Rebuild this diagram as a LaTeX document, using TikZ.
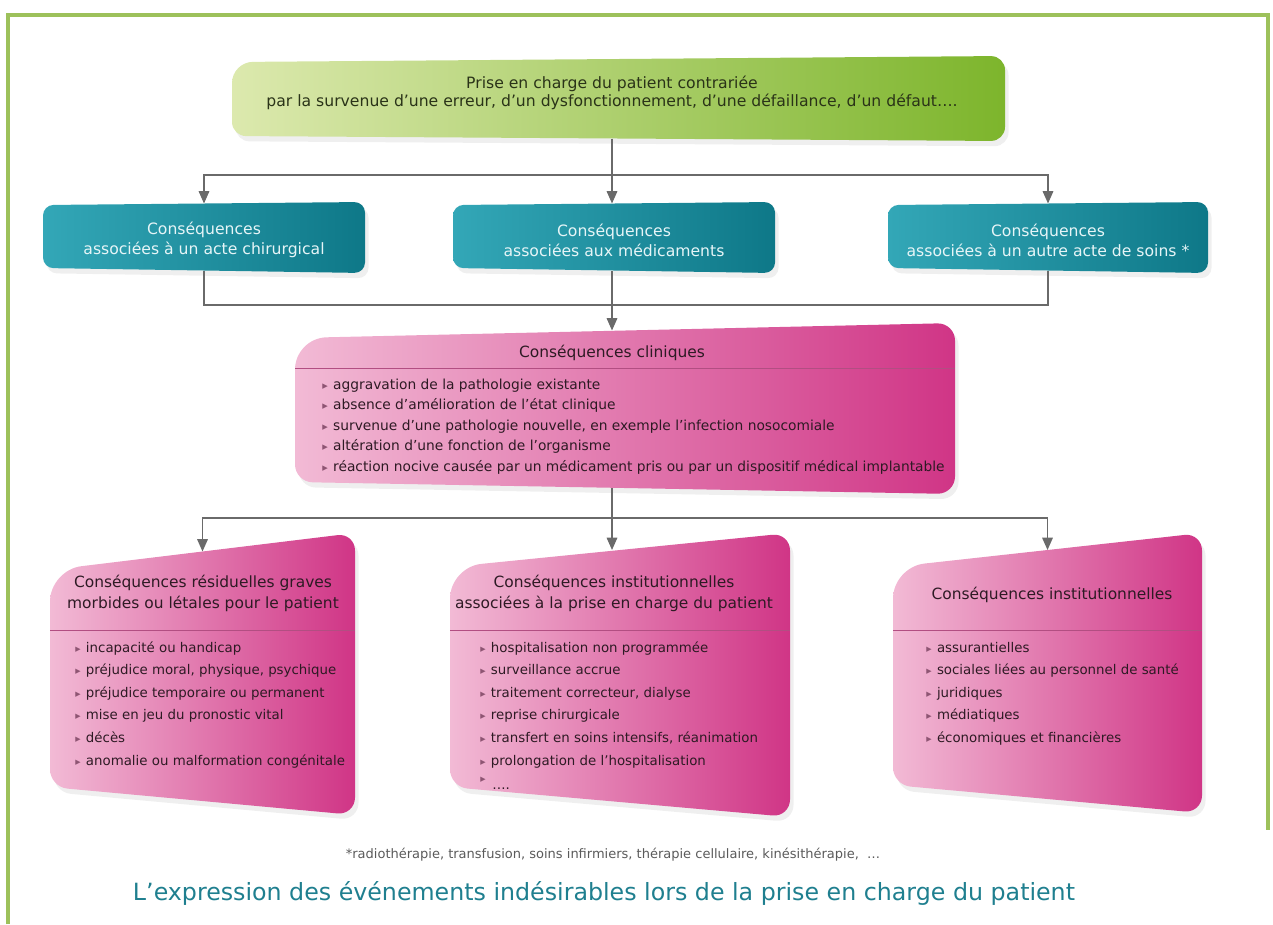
\documentclass[tikz,border=0pt]{standalone}
\usepackage{fontspec}
\usepackage{graphicx}
\setmainfont{DejaVu Sans}
\usetikzlibrary{calc,arrows.meta,shadows}

\definecolor{framegreen}{HTML}{9DC15B}
\definecolor{greenL}{HTML}{DCE9AE}
\definecolor{greenR}{HTML}{7DB52C}
\definecolor{tealL}{HTML}{33A7B7}
\definecolor{tealR}{HTML}{0E7888}
\definecolor{pinkL}{HTML}{F2BAD5}
\definecolor{pinkR}{HTML}{D03586}
\definecolor{linkgrey}{HTML}{6A6A6A}
\definecolor{greentext}{HTML}{2A3318}
\definecolor{tealtext}{HTML}{E6F5F7}
\definecolor{pinktext}{HTML}{2E1A24}
\definecolor{bulletc}{HTML}{8E5573}
\definecolor{sepline}{HTML}{B24E82}
\definecolor{notegrey}{HTML}{5A5A5A}
\definecolor{titleteal}{HTML}{1F7F8F}

\newcommand{\fs}[2]{\fontsize{#1}{#2}\selectfont}
\newcommand{\bul}{{\color{bulletc}\scalebox{0.8}{▸}}\hspace{3pt}}

% box with slanted top and bottom edges: name, x1, x2, y top left, y top right, y bottom left, y bottom right, style
\newcommand{\slantbox}[8]{%
  \coordinate (#1-tl) at (#2,#4);
  \coordinate (#1-tr) at (#3,#5);
  \coordinate (#1-bl) at (#2,#6);
  \coordinate (#1-br) at (#3,#7);
  \coordinate (#1-n) at ($(#1-tl)!0.5!(#1-tr)$);
  \coordinate (#1-s) at ($(#1-bl)!0.5!(#1-br)$);
  \path[#8] ($(#1-tl)!0.5!(#1-bl)$) [rounded corners=\rbig] -- (#1-tl)
    [rounded corners=\rsmall] -- (#1-tr) -- (#1-br) -- (#1-bl) -- cycle;
}

\tikzset{
  link/.style={draw=linkgrey, line width=0.8pt},
  arr/.style={link, -{Triangle[width=6pt,length=7pt]}},
  boxshadow/.style={drop shadow={opacity=0.13, shadow xshift=2pt, shadow yshift=-3pt}},
  greenfill/.style={left color=greenL, right color=greenR, boxshadow},
  tealfill/.style={left color=tealL, right color=tealR, boxshadow},
  pinkfill/.style={left color=pinkL, right color=pinkR, boxshadow},
  greentxt/.style={align=center, text=greentext, font=\fs{8.9}{10.3}},
  tealtxt/.style={align=center, text=tealtext, font=\fs{8.9}{11.3}},
  headtxt/.style={align=center, text=pinktext, font=\fs{8.8}{12}},
  itemtxt/.style={text=pinktext, font=\fs{7.6}{9}, inner sep=0pt, anchor=base west},
  sep/.style={draw=sepline, line width=0.4pt}
}

\begin{document}
\begin{tikzpicture}[x=0.02cm, y=-0.02cm]
  \useasboundingbox (0,0) rectangle (1273,924);

  % frame
  \draw[framegreen, line width=2.3pt] (8,924) -- (8,15) -- (1268,15) -- (1268,830);

  % top box
  \def\rbig{12pt}\def\rsmall{8pt}
  \slantbox{top}{232}{1005}{62}{56}{136}{141}{greenfill}
  \node[greentxt] (top-txt) at (612,93) {Prise en charge du patient contrariée\\
    par la survenue d’une erreur, d’un dysfonctionnement, d’une défaillance, d’un défaut….};

  % middle row
  \def\rbig{6pt}\def\rsmall{6pt}
  \slantbox{surg}{43}{365}{205}{202}{268}{273}{tealfill}
  \slantbox{med}{453}{775}{205}{202}{268}{273}{tealfill}
  \slantbox{care}{888}{1208}{205}{202}{268}{273}{tealfill}
  \node[tealtxt] (surg-txt) at (204,240) {Conséquences\\associées à un acte chirurgical};
  \node[tealtxt] (med-txt) at (614,240) {Conséquences\\associées aux médicaments};
  \node[tealtxt] (care-txt) at (1048,240) {Conséquences\\associées à un autre acte de soins *};

  % clinical box
  \def\rbig{18pt}\def\rsmall{10pt}
  \slantbox{clin}{295}{955}{338}{323}{482}{494}{pinkfill}
  \node[headtxt] (clin-head) at (612,353) {Conséquences cliniques};
  \draw[sep] (295,368) -- (955,368);
  \foreach [count=\i] \t in {aggravation de la pathologie existante,
      absence d’amélioration de l’état clinique,
      {survenue d’une pathologie nouvelle, en exemple l’infection nosocomiale},
      altération d’une fonction de l’organisme,
      réaction nocive causée par un médicament pris ou par un dispositif médical implantable}
    \node[itemtxt, font=\fs{7.85}{9}] (clin-i\i) at (322,{389+20.5*(\i-1)}) {\bul\t};

  % bottom row
  \def\rbig{18pt}\def\rsmall{10pt}
  \slantbox{resid}{50}{355}{570}{533}{787}{815}{pinkfill}
  \slantbox{inst}{450}{790}{567}{533}{787}{817}{pinkfill}
  \slantbox{soc}{893}{1202}{567}{533}{785}{813}{pinkfill}
  \draw[sep] (50,630) -- (355,630);
  \draw[sep] (450,630) -- (790,630);
  \draw[sep] (893,630) -- (1202,630);

  \node[headtxt] (resid-head) at (203,593) {Conséquences résiduelles graves\\morbides ou létales pour le patient};
  \node[headtxt] (inst-head) at (614,593) {Conséquences institutionnelles\\associées à la prise en charge du patient};
  \node[headtxt] (soc-head) at (1052,595) {Conséquences institutionnelles};

  \foreach [count=\i] \t in {incapacité ou handicap,
      {préjudice moral, physique, psychique},
      préjudice temporaire ou permanent,
      mise en jeu du pronostic vital,
      décès,
      anomalie ou malformation congénitale}
    \node[itemtxt] (resid-i\i) at (75,{652+22.6*(\i-1)}) {\bul\t};

  \foreach [count=\i] \t in {hospitalisation non programmée,
      surveillance accrue,
      {traitement correcteur, dialyse},
      reprise chirurgicale,
      {transfert en soins intensifs, réanimation},
      prolongation de l’hospitalisation}
    \node[itemtxt] (inst-i\i) at (480,{652+22.6*(\i-1)}) {\bul\t};
  \node[itemtxt] (inst-i7) at (480,782) {\bul};
  \node[itemtxt] (inst-dots) at (492,789) {….};

  \foreach [count=\i] \t in {assurantielles,
      sociales liées au personnel de santé,
      juridiques,
      médiatiques,
      économiques et financières}
    \node[itemtxt] (soc-i\i) at (926,{652+22.6*(\i-1)}) {\bul\t};

  % connectors
  \coordinate (j1) at (612,175);
  \coordinate (j2) at (612,305);
  \coordinate (j3) at (612,518);
  \draw[link] (top-s -| j1) -- (j1);
  \draw[arr] (j1) -| (surg-n);
  \draw[arr] (j1) -- (j1 |- med-n);
  \draw[arr] (j1) -| (care-n);
  \draw[link] (surg-s) |- (j2);
  \draw[link] (care-s) |- (j2);
  \draw[arr] (med-s -| j2) -- (j2 |- clin-n);
  \draw[link] (clin-s -| j3) -- (j3);
  \draw[arr] (j3) -| (resid-n);
  \draw[arr] (j3) -- (j3 |- inst-n);
  \draw[arr] (j3) -| (soc-n);

  % footnote and title
  \node[text=notegrey, font=\fs{7.4}{9}] (note) at (613,855)
    {*radiothérapie, transfusion, soins infirmiers, thérapie cellulaire, kinésithérapie,\ \ …};
  \node[text=titleteal, font=\fs{13.5}{15}] (title) at (604,893)
    {L’expression des événements indésirables lors de la prise en charge du patient};
\end{tikzpicture}
\end{document}
